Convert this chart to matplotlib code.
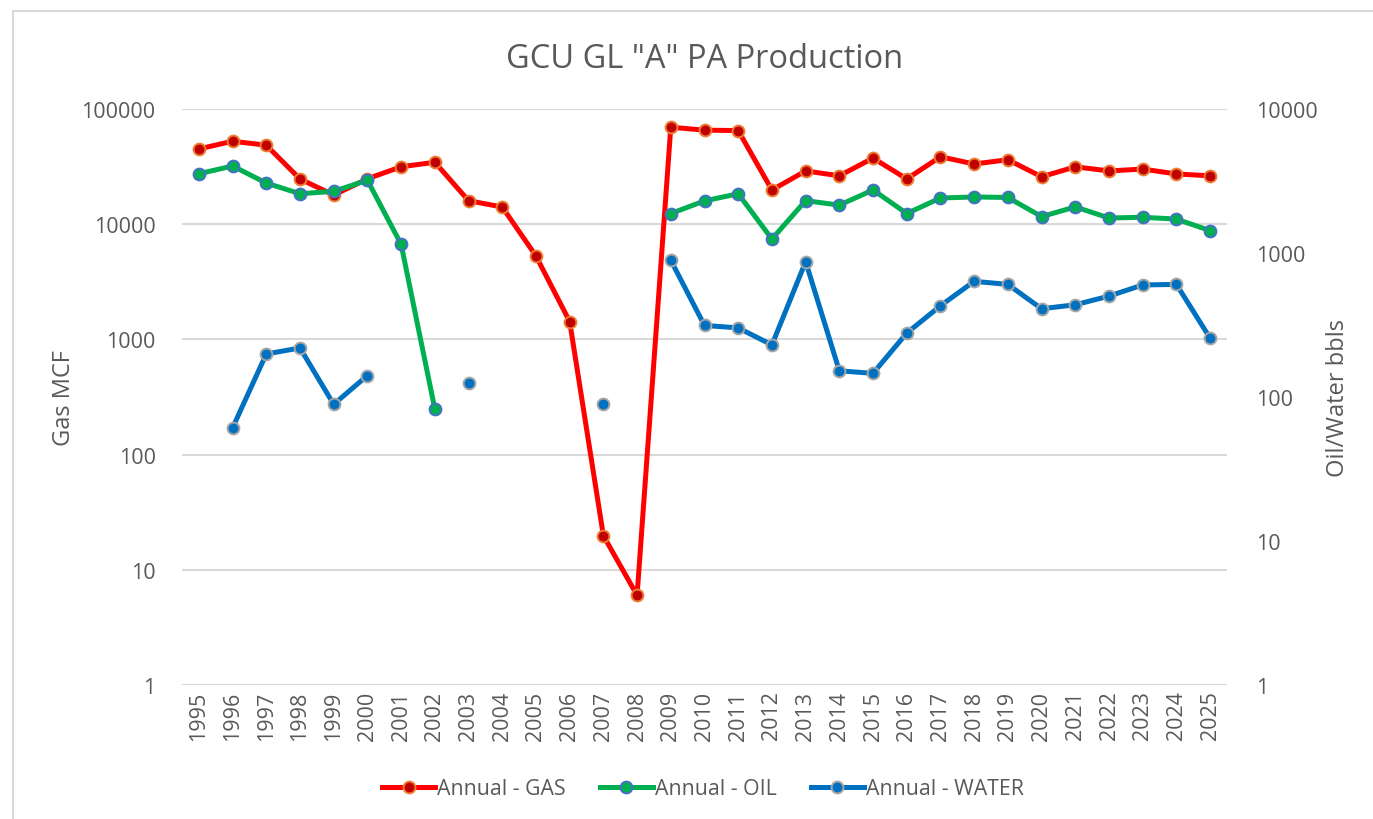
import numpy as np
import matplotlib.pyplot as plt
from matplotlib.patches import Rectangle
from matplotlib.ticker import FixedLocator, FixedFormatter, NullLocator

plt.rcParams['font.family'] = ['Open Sans', 'DejaVu Sans']

nan = np.nan
years = list(range(1995, 2026))

# annual gas (MCF) - left axis
gas = [45000, 52500, 48500, 24700, 17900, 24800, 31500, 34500, 16000, 14100,
       5300, 1430, 19.8, 6.0, 69500, 65500, 65000, 19800, 29000, 26300,
       37500, 24700, 38500, 33300, 36300, 25800, 31500, 29000, 30100, 27300, 26300]

# annual oil (bbls) - right axis
oil = [3550, 4020, 3060, 2580, 2680, 3200, 1150, 82.6, nan, nan,
       nan, nan, nan, nan, 1880, 2300, 2580, 1250, 2310, 2150,
       2740, 1880, 2410, 2450, 2430, 1790, 2090, 1750, 1770, 1720, 1430]

# annual water (bbls) - right axis
water = [nan, 61, 199, 219, 89, 141, nan, nan, 125, nan,
         nan, nan, 90, nan, 890, 314, 302, 230, 870, 152,
         146, 278, 430, 636, 605, 410, 437, 502, 600, 605, 256]

gridc = '#D9D9D9'
txtc = '#595959'

fig = plt.figure(figsize=(13.73, 8.2), dpi=100)
ax = fig.add_axes([182/1373, 1-686/820, (1227-182)/1373, (686-110)/820])
ax2 = ax.twinx()

lw = 3.6
ms = 8.5
mew = 1.4
l1, = ax.plot(years, gas, color='#FF0000', lw=lw, marker='o', ms=ms,
              mfc='#C00000', mec='#ED7D31', mew=mew, label='Annual - GAS')
l2, = ax2.plot(years, oil, color='#00B050', lw=lw, marker='o', ms=ms,
               mfc='#00B050', mec='#4472C4', mew=mew, label='Annual - OIL')
l3, = ax2.plot(years, water, color='#0070C0', lw=lw, marker='o', ms=ms,
               mfc='#0070C0', mec='#A5A5A5', mew=mew, label='Annual - WATER')

ax.set_yscale('log')
ax2.set_yscale('log')
ax.set_ylim(1, 100000)
ax2.set_ylim(1, 10000)
ax.set_xlim(1994.5, 2025.5)

lt = [1, 10, 100, 1000, 10000, 100000]
rt = [1, 10, 100, 1000, 10000]
ax.yaxis.set_major_locator(FixedLocator(lt))
ax.yaxis.set_major_formatter(FixedFormatter([str(v) for v in lt]))
ax.yaxis.set_minor_locator(NullLocator())
ax2.yaxis.set_major_locator(FixedLocator(rt))
ax2.yaxis.set_major_formatter(FixedFormatter([str(v) for v in rt]))
ax2.yaxis.set_minor_locator(NullLocator())

ax.set_xticks(years)
ax.set_xticklabels([str(y) for y in years], rotation=90)

ax.grid(axis='y', color=gridc, lw=1.5)
ax.set_axisbelow(True)
for a in (ax, ax2):
    for s in a.spines.values():
        s.set_visible(False)
    a.tick_params(length=0, labelsize=15.5, colors=txtc)
ax.tick_params(axis='y', pad=19)
ax2.tick_params(axis='y', pad=21)
ax.tick_params(axis='x', pad=4)

ax.set_ylabel('Gas MCF', fontsize=17, color=txtc, labelpad=4)
ax2.set_ylabel('Oil/Water bbls', fontsize=17, color=txtc, labelpad=6)
ax.set_title('GCU GL "A" PA Production', fontsize=23.5, color=txtc, pad=30)

fig.legend(handles=[l1, l2, l3], loc='center', bbox_to_anchor=(0.512, 1-790/820),
           ncol=3, frameon=False, fontsize=15.3, labelcolor=txtc,
           handlelength=2.5, handletextpad=0.1, columnspacing=1.6)

fig.patches.append(Rectangle((13/1373, -0.1), 1.2, 1-12/820+0.1, transform=fig.transFigure,
                             fill=False, ec=gridc, lw=1.5))

fig.savefig('out.png', dpi=100)
